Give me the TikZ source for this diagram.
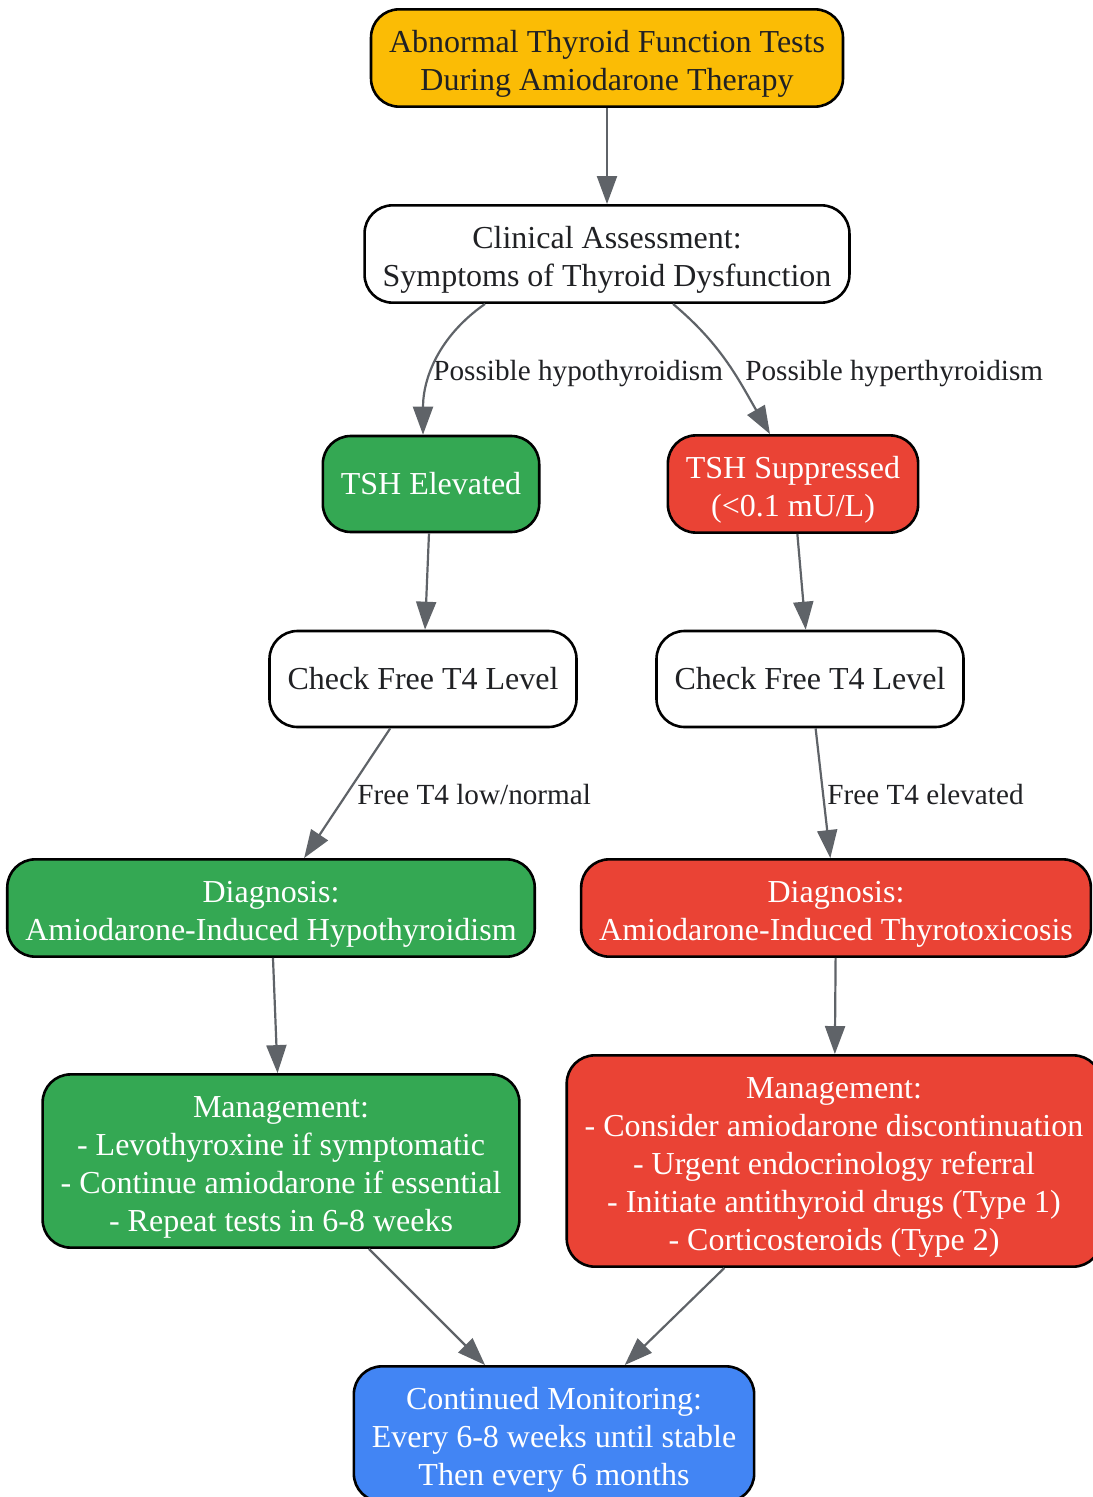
\documentclass[tikz,border=0pt]{standalone}
\usepackage{fontspec}
\setmainfont{Liberation Serif}
\usetikzlibrary{arrows.meta}

\definecolor{amber}{HTML}{FBBC05}
\definecolor{hypogreen}{HTML}{34A853}
\definecolor{hyperred}{HTML}{EA4335}
\definecolor{monblue}{HTML}{4285F4}
\definecolor{edgegray}{HTML}{5F6368}
\definecolor{inkdark}{HTML}{202124}
\newcommand{\tallfirst}{\rule{0pt}{17pt}}

\begin{document}
\begin{tikzpicture}[x=0.5pt, y=-0.5pt,
			box/.style={draw=black, line width=1.3pt, rounded corners=14pt, align=center,
				minimum height=48pt, inner xsep=9pt, inner ysep=7.25pt,
				font=\fontsize{16}{19}\selectfont, text=inkdark},
			multi/.style={inner ysep=4.6pt},
			plain/.style={box, fill=white},
			startbox/.style={box, fill=amber},
			hypo/.style={box, fill=hypogreen, text=white},
			hyper/.style={box, fill=hyperred, text=white},
			monitor/.style={box, fill=monblue, text=white},
			elabel/.style={font=\fontsize{14.6}{17}\selectfont, text=inkdark, inner sep=0pt},
			flow/.style={draw=edgegray, line width=1.1pt, -{Triangle[length=14pt,width=10pt]}}]
			\useasboundingbox (0,0) rectangle (1092,1497);

			\node[startbox, multi] (start) at (607,58) {\tallfirst Abnormal Thyroid Function Tests\\During Amiodarone Therapy};
			\node[plain, multi] (assess) at (607,254) {\tallfirst Clinical Assessment:\\Symptoms of Thyroid Dysfunction};

			\node[hypo] (tshhigh) at (431,484) {TSH Elevated};
			\node[hyper, multi] (tshlow) at (793,484) {\tallfirst TSH Suppressed\\(<0.1 mU/L)};

			\node[plain] (chkhypo) at (423,679) {Check Free T4 Level};
			\node[plain] (chkhyper) at (810,679) {Check Free T4 Level};

			\node[hypo, multi] (diaghypo) at (271,908) {\tallfirst Diagnosis:\\Amiodarone-Induced Hypothyroidism};
			\node[hyper, multi] (diaghyper) at (836,908) {\tallfirst Diagnosis:\\Amiodarone-Induced Thyrotoxicosis};

			\node[hypo, multi] (mgmthypo) at (281,1161) {\tallfirst Management:\\- Levothyroxine if symptomatic\\- Continue amiodarone if essential\\- Repeat tests in 6-8 weeks};
			\node[hyper, multi] (mgmthyper) at (834,1161) {\tallfirst Management:\\- Consider amiodarone discontinuation\\- Urgent endocrinology referral\\- Initiate antithyroid drugs (Type 1)\\- Corticosteroids (Type 2)};

			\node[monitor, multi] (follow) at (554,1434) {\tallfirst Continued Monitoring:\\Every 6-8 weeks until stable\\Then every 6 months};

			% edge labels
			\node[elabel, anchor=west] (lhypo) at (433,374) {Possible hypothyroidism};
			\node[elabel, anchor=west] (lhyper) at (745,374) {Possible hyperthyroidism};
			\node[elabel, anchor=west] (llow) at (357,795) {Free T4 low/normal};
			\node[elabel, anchor=west] (lhigh) at (827,795) {Free T4 elevated};

			% connectors
			\draw[flow] (start) -- (assess);
			\draw[flow] ([xshift=-61pt]assess.south) to[out=-145, in=90] ([xshift=-4pt]tshhigh.north);
			\draw[flow] ([xshift=33pt]assess.south) to[out=-40, in=120] ([xshift=-11.5pt]tshlow.north);
			\draw[flow] (tshhigh) -- (chkhypo);
			\draw[flow] (tshlow) -- (chkhyper);
			\draw[flow] (chkhypo) -- (diaghypo);
			\draw[flow] (chkhyper) -- (diaghyper);
			\draw[flow] (diaghypo) -- (mgmthypo);
			\draw[flow] (diaghyper) -- (mgmthyper);
			\draw[flow] (mgmthypo) -- (follow);
			\draw[flow] (mgmthyper) -- (follow);
		\end{tikzpicture}
\end{document}
